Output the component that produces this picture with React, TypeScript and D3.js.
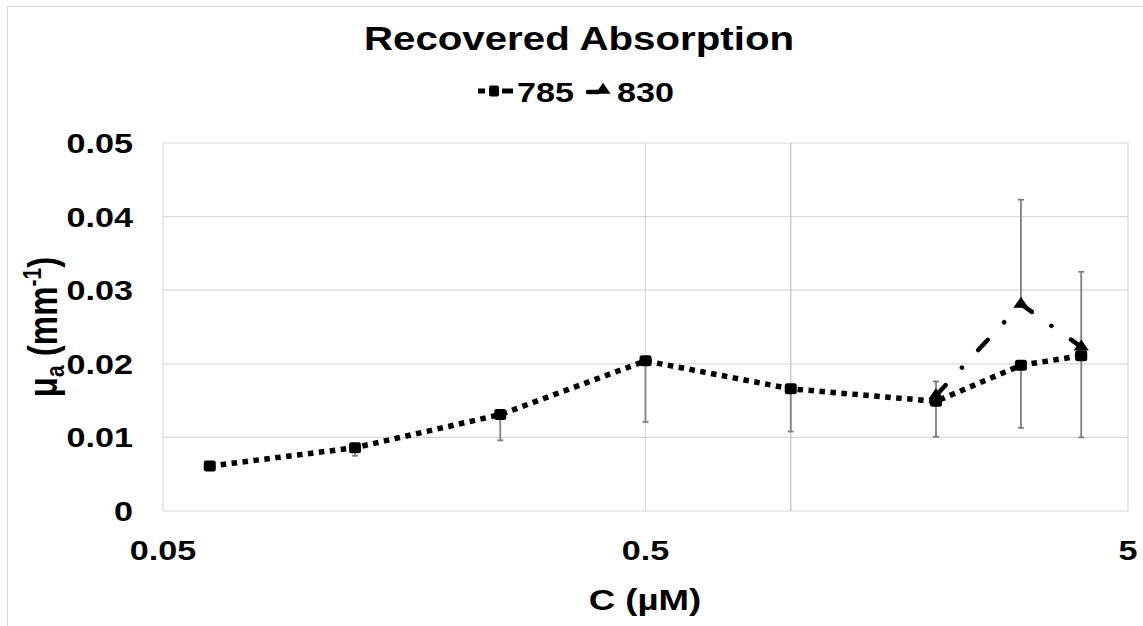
import React from "react";
import * as d3 from "d3";

// Concentration (µM) and recovered absorption (mm^-1) per wavelength
const conc785 = [0.0625, 0.125, 0.25, 0.5, 1, 2, 3, 4];
const mua785 = [0.0061, 0.0086, 0.0131, 0.0204, 0.0166, 0.0149, 0.0198, 0.0211];
const err785Minus = [0, 0.0011, 0.0035, 0.0083, 0.0058, 0.0048, 0.0085, 0.0111];

const conc830 = [2, 3, 4];
const mua830 = [0.0157, 0.0281, 0.0223];
const err830Plus = [0.0019, 0.0142, 0.0102];

const yTicks = [0, 0.01, 0.02, 0.03, 0.04, 0.05];
const yTickLabels = ["0", "0.01", "0.02", "0.03", "0.04", "0.05"];
const xTicks = [0.05, 0.5, 5];
const xTickLabels = ["0.05", "0.5", "5"];
const xGrid = [0.5, 1, 5];

const W = 1143;
const H = 626;
const M = { left: 163, right: 1128, top: 143, bottom: 511 };
const SX = 1.22; // horizontal glyph stretch
const FONT = "'Liberation Sans', Arial, sans-serif";

function Txt({ x, y, size, anchor = "middle", children }: any) {
  return (
    <text
      transform={`translate(${x},${y}) scale(${SX},1)`}
      textAnchor={anchor}
      fontFamily={FONT}
      fontWeight="bold"
      fontSize={size}
      fill="#000"
    >
      {children}
    </text>
  );
}

export default function App() {
  const x = d3.scaleLog().domain([0.05, 5]).range([M.left, M.right]);
  const y = d3.scaleLinear().domain([0, 0.05]).range([M.bottom, M.top]);

  const pts785 = conc785.map((c, i) => [x(c), y(mua785[i])] as [number, number]);
  const pts830 = conc830.map((c, i) => [x(c), y(mua830[i])] as [number, number]);
  const line = d3.line();

  const tri = d3.symbol().type(d3.symbolTriangle).size(70)();

  const errColor = "#7f7f7f";
  const cap = 3;

  return (
    <svg
      width={W}
      height={H}
      style={{ position: "absolute", left: 0, top: 0, background: "#fff" }}
    >
      <rect x={7.5} y={6.5} width={1300} height={800} fill="#fff" stroke="#d9d9d9" strokeWidth={1} />

      {/* horizontal gridlines */}
      {yTicks.map((t) => (
        <line key={"hy" + t} x1={M.left} x2={M.right} y1={y(t)} y2={y(t)} stroke="#d9d9d9" strokeWidth={1.2} />
      ))}
      {/* vertical gridlines */}
      {xGrid.map((t) => (
        <line
          key={"vx" + t}
          x1={x(t)}
          x2={x(t)}
          y1={M.top}
          y2={M.bottom}
          stroke={t === 1 ? "#bfbfbf" : "#d9d9d9"}
          strokeWidth={1.2}
        />
      ))}
      <line x1={M.left} x2={M.left} y1={M.top} y2={M.bottom} stroke="#d9d9d9" strokeWidth={1.2} />

      {/* error bars */}
      {conc785.map((c, i) =>
        err785Minus[i] > 0 ? (
          <g key={"e785" + i} stroke={errColor} strokeWidth={1.8}>
            <line x1={x(c)} x2={x(c)} y1={y(mua785[i])} y2={y(mua785[i] - err785Minus[i])} />
            <line x1={x(c) - cap} x2={x(c) + cap} y1={y(mua785[i] - err785Minus[i])} y2={y(mua785[i] - err785Minus[i])} />
          </g>
        ) : null
      )}
      {conc830.map((c, i) => (
        <g key={"e830" + i} stroke={errColor} strokeWidth={1.8}>
          <line x1={x(c)} x2={x(c)} y1={y(mua830[i])} y2={y(mua830[i] + err830Plus[i])} />
          <line x1={x(c) - cap} x2={x(c) + cap} y1={y(mua830[i] + err830Plus[i])} y2={y(mua830[i] + err830Plus[i])} />
        </g>
      ))}

      {/* 785 series */}
      <path d={line(pts785) || ""} fill="none" stroke="#000" strokeWidth={5.5} strokeDasharray="5.5 5.5" />
      {pts785.map(([px, py], i) => (
        <rect key={"m785" + i} x={px - 6} y={py - 5.5} width={12} height={11} rx={2.5} fill="#000" />
      ))}

      {/* 830 series */}
      <path
        d={line(pts830) || ""}
        fill="none"
        stroke="#000"
        strokeWidth={4.5}
        strokeLinecap="round"
        strokeDasharray="14 24 0.01 24"
      />
      {pts830.map(([px, py], i) => (
        <path key={"m830" + i} d={tri || ""} transform={`translate(${px},${py}) scale(1.2,1)`} fill="#000" />
      ))}

      {/* axis tick labels */}
      {yTicks.map((t, i) => (
        <Txt key={"yl" + t} x={133} y={y(t) + 10} size={28} anchor="end">
          {yTickLabels[i]}
        </Txt>
      ))}
      {xTicks.map((t, i) => (
        <Txt key={"xl" + t} x={x(t)} y={560} size={28}>
          {xTickLabels[i]}
        </Txt>
      ))}

      {/* titles */}
      <Txt x={579} y={50} size={33}>Recovered Absorption</Txt>
      <Txt x={645} y={610} size={30}>C (µM)</Txt>
      <text
        transform={`translate(57,327) scale(${SX},1) rotate(-90)`}
        textAnchor="middle"
        fontFamily={FONT}
        fontWeight="bold"
        fontSize={33}
        fill="#000"
      >
        μ<tspan fontSize={21} dy={6}>a</tspan>
        <tspan dy={-6}> (mm</tspan>
        <tspan fontSize={21} dy={-13}>-1</tspan>
        <tspan dy={13}>)</tspan>
      </text>

      {/* legend */}
      <g>
        <line x1={478} x2={485} y1={91} y2={91} stroke="#000" strokeWidth={5} />
        <line x1={502} x2={513} y1={91} y2={91} stroke="#000" strokeWidth={5} />
        <rect x={489} y={85.5} width={10} height={11} rx={2} fill="#000" />
        <Txt x={517} y={102} size={28} anchor="start">785</Txt>
        <line x1={588} x2={598} y1={92} y2={92} stroke="#000" strokeWidth={4.5} strokeLinecap="round" />
        <path d={tri || ""} transform={`translate(603,90) scale(1.2,1)`} fill="#000" />
        <Txt x={617} y={102} size={28} anchor="start">830</Txt>
      </g>
    </svg>
  );
}
